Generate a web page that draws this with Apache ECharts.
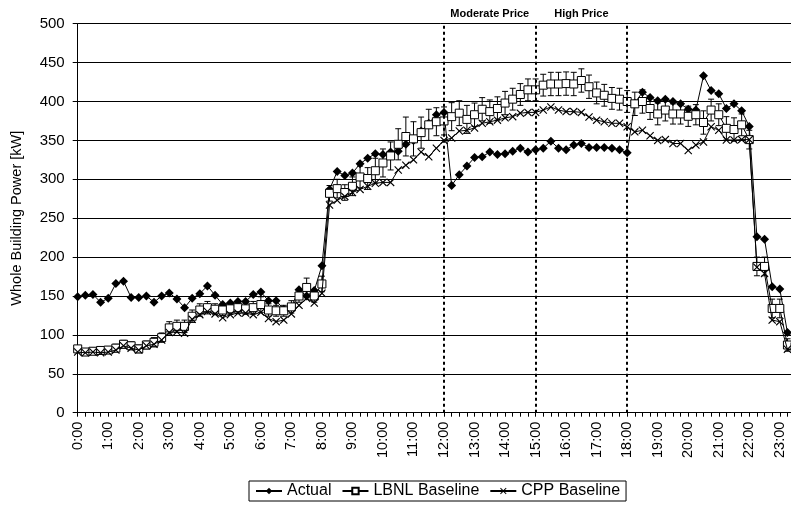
<!DOCTYPE html>
<html>
<head>
<meta charset="utf-8">
<script src="https://cdn.jsdelivr.net/npm/echarts/dist/echarts.min.js"></script>
<style>
html,body{margin:0;padding:0;background:#fff;overflow:hidden;width:791px;height:508px;}
#c{width:803px;height:508px;}
</style>
</head>
<body>
<div id="c"></div>
<script>
// ---- data ----
var times = ["0:00","0:15","0:30","0:45","1:00","1:15","1:30","1:45","2:00","2:15","2:30","2:45",
"3:00","3:15","3:30","3:45","4:00","4:15","4:30","4:45","5:00","5:15","5:30","5:45",
"6:00","6:15","6:30","6:45","7:00","7:15","7:30","7:45","8:00","8:15","8:30","8:45",
"9:00","9:15","9:30","9:45","10:00","10:15","10:30","10:45","11:00","11:15","11:30","11:45",
"12:00","12:15","12:30","12:45","13:00","13:15","13:30","13:45","14:00","14:15","14:30","14:45",
"15:00","15:15","15:30","15:45","16:00","16:15","16:30","16:45","17:00","17:15","17:30","17:45",
"18:00","18:15","18:30","18:45","19:00","19:15","19:30","19:45","20:00","20:15","20:30","20:45",
"21:00","21:15","21:30","21:45","22:00","22:15","22:30","22:45","23:00","23:15","23:30","23:45"];

var actual = [149,151,152,142,147,166,169,148,148,150,142,150,
154,146,135,147,153,163,151,139,141,143,143,152,
155,144,144,133,136,158,150,157,189,287,310,305,
308,320,327,333,332,335,336,345,350,362,372,383,
386,292,306,317,328,329,335,332,333,336,340,335,
338,340,349,340,338,344,346,341,341,341,340,338,
334,398,412,405,401,403,400,397,390,389,433,414,
410,391,397,388,368,226,223,162,159,103,95,92];

var lbnl = [82,78,79,80,80.5,83,88,86,82,87,90.5,96.5,
109,111,111,124,132,135,133,132,133.5,135,133.5,135,
139,132,131,131,136,150,161,150,165.5,282,288,283,
291,303,301,311,321,330,345,355,352,360,370,374,
375,380.5,385,377,383,390,387,391,398,403,409,415,
415,421,422.5,422.5,423,422.5,427,419,411,408,404,403,
400,397,400,391,384,389,384,384,381,383,373,389,
383,365.5,364,370,351,188,188,134,134,87,85,83];

var lbnlErr = [4,4,4,4,4,5,5,5,5,5,6,6,
8,8,8,8,8,8,7,7,7,7,7,8,
10,8,7,7,8,8,12,8,10,10,12,10,
12,14,14,16,18,18,20,25,22,20,20,18,
18,18,16,18,15,15,15,15,15,14,14,14,
14,14,15,15,15,15,15,15,14,14,14,14,
14,15,15,14,14,14,13,13,13,13,15,14,
14,15,15,14,12,12,12,12,12,8,8,8];

var cpp = [78,77,78,77,78,80.5,86,83,80.5,86,88,93.5,
103,104,102,120,126,130,127,122,126,128,128,126,
129,121,117,119,127,138,147,141,153.5,267,273,278,
283,287,291,295,296,296,312,318,325,335,329,340,
350,353,362,363,366,372,374,376,379,380.5,385,386,
386,389,393,389,387,387,386,380,376,374,372,372,
367.6,361,363,356,350,351,346,346,337,344,348,367.6,
363,350.5,350.5,351,351,187,179,119,117,81.5,80,78];

var priceLines = ["12:00","15:00","18:00"];
var periods = [["Moderate Price","12:00","15:00"],["High Price","15:00","18:00"]];
var yTicks = {min:0, max:500, interval:50};
var yTitle = "Whole Building Power [kW]";
var seriesNames = ["Actual","LBNL Baseline","CPP Baseline"];

// ---- chart ----
var FONT = "Liberation Sans";
var errData = lbnl.map(function(v,i){return [i, v-lbnlErr[i], v+lbnlErr[i]];});
var xPath = 'path://M0,1 L1,0 L5,4 L9,0 L10,1 L6,5 L10,9 L9,10 L5,6 L1,10 L0,9 L4,5 Z';

var chart = echarts.init(document.getElementById('c'), null, {renderer:'canvas'});
chart.setOption({
  animation:false,
  backgroundColor:'#fff',
  textStyle:{fontFamily:FONT, color:'#000'},
  grid:{left:77.7, top:23.7, width:725, height:389, containLabel:false},
  legend:{
    left:249, top:481, itemGap:10, itemWidth:26, itemHeight:8,
    borderColor:'#000', borderWidth:1, padding:[2,6,2,6],
    textStyle:{fontFamily:FONT, fontSize:16, color:'#000'},
    data:seriesNames
  },
  xAxis:{
    type:'category', data:times, boundaryGap:false,
    axisLine:{lineStyle:{color:'#000', width:1}},
    axisTick:{interval:0, length:4, lineStyle:{color:'#000'}},
    axisLabel:{interval:3, rotate:90, margin:9, fontFamily:FONT, fontSize:14.5, color:'#000'},
    splitLine:{show:false}
  },
  yAxis:{
    type:'value', min:yTicks.min, max:yTicks.max, interval:yTicks.interval,
    name:yTitle, nameLocation:'middle', nameGap:53, nameRotate:90,
    nameTextStyle:{fontFamily:FONT, fontSize:14.5, color:'#000'},
    axisLine:{show:true, lineStyle:{color:'#000', width:1}},
    axisTick:{show:true, length:5, lineStyle:{color:'#000'}},
    axisLabel:{margin:13, fontFamily:FONT, fontSize:15, color:'#000'},
    splitLine:{lineStyle:{color:'#000', width:1}}
  },
  series:[
    {
      name:seriesNames[0], type:'line', data:actual, z:2,
      symbol:'diamond', symbolSize:9, showAllSymbol:true,
      lineStyle:{color:'#000', width:1}, itemStyle:{color:'#000'},
      markLine:{
        silent:true, symbol:'none', label:{show:false},
        lineStyle:{color:'#000', type:[3,3], width:2},
        data:priceLines.map(function(t){return {xAxis:t};})
      },
      markArea:{
        silent:true,
        itemStyle:{color:'rgba(0,0,0,0)'},
        label:{show:true, position:'top', distance:4, fontFamily:FONT, fontSize:11, fontWeight:'bold', color:'#000'},
        data:periods.map(function(p){return [{name:p[0], xAxis:p[1]},{xAxis:p[2]}];})
      }
    },
    {
      name:'err', type:'custom', data:errData, z:3, silent:true,
      renderItem:function(params, api){
        var lo = api.coord([api.value(0), api.value(1)]);
        var hi = api.coord([api.value(0), api.value(2)]);
        var w = 3;
        var st = {stroke:'#000', lineWidth:1};
        return {type:'group', children:[
          {type:'line', shape:{x1:lo[0],y1:lo[1],x2:hi[0],y2:hi[1]}, style:st},
          {type:'line', shape:{x1:lo[0]-w,y1:lo[1],x2:lo[0]+w,y2:lo[1]}, style:st},
          {type:'line', shape:{x1:hi[0]-w,y1:hi[1],x2:hi[0]+w,y2:hi[1]}, style:st}
        ]};
      }
    },
    {
      name:seriesNames[1], type:'line', data:lbnl, z:4,
      symbol:'rect', symbolSize:8, showAllSymbol:true,
      lineStyle:{color:'#000', width:1},
      itemStyle:{color:'#fff', borderColor:'#000', borderWidth:1}
    },
    {
      name:seriesNames[2], type:'line', data:cpp, z:5,
      symbol:xPath, symbolSize:8, showAllSymbol:true,
      lineStyle:{color:'#000', width:1},
      itemStyle:{color:'#000'}
    }
  ]
});
</script>
</body>
</html>
